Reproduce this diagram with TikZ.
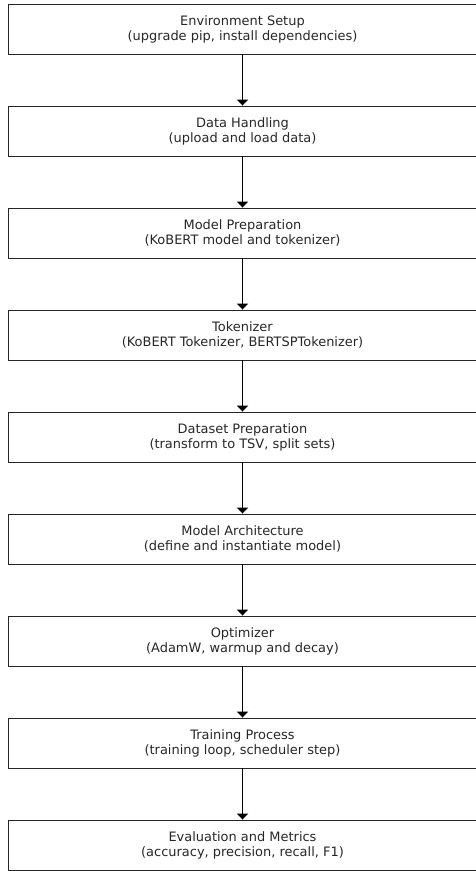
\documentclass[tikz,border=0pt]{standalone}
\usepackage{fontspec}
\setmainfont{DejaVu Sans}
\usetikzlibrary{positioning,arrows.meta}

\tikzset{
  stepbox/.style={draw=black!85, line width=0.9bp, minimum width=469bp, minimum height=50bp,
    align=center, font=\fontsize{13}{15}\selectfont, text=black!85, inner sep=0pt},
  flow/.style={line width=1.5bp, -{Triangle[width=11bp,length=6bp]}}
}

\begin{document}
\begin{tikzpicture}[x=1bp,y=-1bp]

\useasboundingbox (0,0) rectangle (476,871);

% Boxes
\node[stepbox] (env) at (242.5,29) {Environment Setup\\(upgrade pip, install dependencies)};
\node[stepbox] (data) at (242.5,131) {Data Handling\\(upload and load data)};
\node[stepbox] (prep) at (242.5,233) {Model Preparation\\(KoBERT model and tokenizer)};
\node[stepbox] (tok) at (242.5,335) {Tokenizer\\(KoBERT Tokenizer, BERTSPTokenizer)};
\node[stepbox] (dset) at (242.5,437) {Dataset Preparation\\(transform to TSV, split sets)};
\node[stepbox] (arch) at (242.5,539) {Model Architecture\\(define and instantiate model)};
\node[stepbox] (optim) at (242.5,641) {Optimizer\\(AdamW, warmup and decay)};
\node[stepbox] (train) at (242.5,743) {Training Process\\(training loop, scheduler step)};
\node[stepbox] (eval) at (242.5,845) {Evaluation and Metrics\\(accuracy, precision, recall, F1)};

% Arrows
\draw[flow] (env) -- (data);
\draw[flow] (data) -- (prep);
\draw[flow] (prep) -- (tok);
\draw[flow] (tok) -- (dset);
\draw[flow] (dset) -- (arch);
\draw[flow] (arch) -- (optim);
\draw[flow] (optim) -- (train);
\draw[flow] (train) -- (eval);

\end{tikzpicture}
\end{document}
